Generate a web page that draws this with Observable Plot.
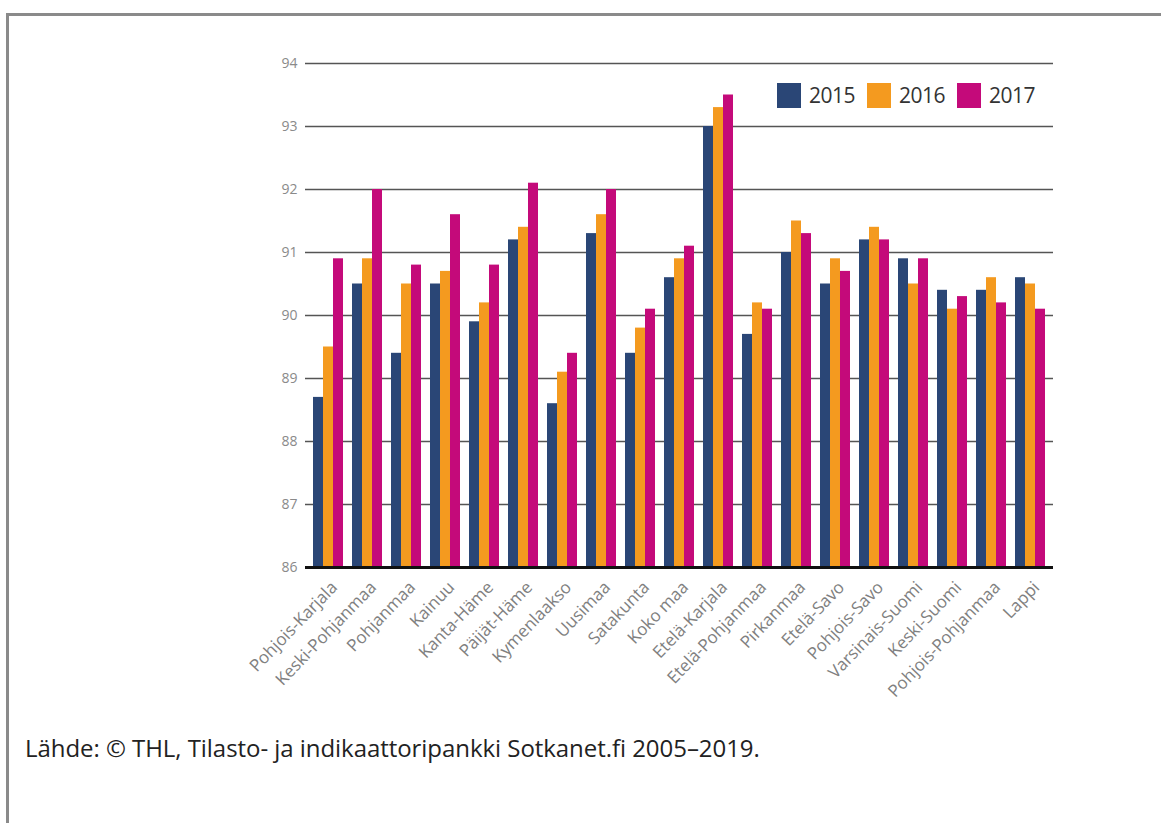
<!DOCTYPE html>
<html lang="fi">
<head>
<meta charset="utf-8">
<script src="https://cdn.jsdelivr.net/npm/d3@7"></script>
<script src="https://cdn.jsdelivr.net/npm/@observablehq/plot@0.6"></script>
<style>
  html, body { margin: 0; padding: 0; background: #fff; }
  #page { position: relative; width: 1161px; height: 823px; overflow: hidden; font-family: "Open Sans", sans-serif; }
  #frame { position: absolute; left: 6px; top: 13px; right: -10px; bottom: -10px; border-left: 3px solid #8a8a8a; border-top: 3px solid #8a8a8a; }
  .layer { position: absolute; left: 0; top: 0; }
  #legend { position: absolute; left: 777px; top: 83px; display: flex; align-items: center; font-size: 21px; color: #333; letter-spacing: -0.5px; line-height: 25px; }
  #legend .item { display: flex; align-items: center; margin-right: 12px; }
  #legend .sw { width: 24px; height: 25px; margin-right: 8px; }
  #source { position: absolute; left: 25px; top: 731px; font-size: 24px; color: #222; letter-spacing: -0.05px; }
</style>
</head>
<body>
<div id="page">
  <div id="frame"></div>
  <div id="grid" class="layer"></div>
  <div id="bars" class="layer"></div>
  <div id="base" class="layer"></div>
  <div id="legend"></div>
  <div id="source">Lähde: © THL, Tilasto- ja indikaattoripankki Sotkanet.fi 2005–2019.</div>
</div>
<script>
// Alueet (maakunnat ja koko maa) piirtojärjestyksessä
const regions = [
  "Pohjois-Karjala", "Keski-Pohjanmaa", "Pohjanmaa", "Kainuu", "Kanta-Häme",
  "Päijät-Häme", "Kymenlaakso", "Uusimaa", "Satakunta", "Koko maa",
  "Etelä-Karjala", "Etelä-Pohjanmaa", "Pirkanmaa", "Etelä-Savo", "Pohjois-Savo",
  "Varsinais-Suomi", "Keski-Suomi", "Pohjois-Pohjanmaa", "Lappi"
];
const years = ["2015", "2016", "2017"];
const values2015 = [88.7, 90.5, 89.4, 90.5, 89.9, 91.2, 88.6, 91.3, 89.4, 90.6, 93.0, 89.7, 91.0, 90.5, 91.2, 90.9, 90.4, 90.4, 90.6];
const values2016 = [89.5, 90.9, 90.5, 90.7, 90.2, 91.4, 89.1, 91.6, 89.8, 90.9, 93.3, 90.2, 91.5, 90.9, 91.4, 90.5, 90.1, 90.6, 90.5];
const values2017 = [90.9, 92.0, 90.8, 91.6, 90.8, 92.1, 89.4, 92.0, 90.1, 91.1, 93.5, 90.1, 91.3, 90.7, 91.2, 90.9, 90.3, 90.2, 90.1];
const yTicks = [86, 87, 88, 89, 90, 91, 92, 93, 94];
const yearColors = ["#2a4676", "#f49a1f", "#c40a7a"];

const series = [values2015, values2016, values2017];
const data = regions.flatMap((region, i) =>
  years.map((year, j) => ({region, year, value: series[j][i]}))
);

// Kaikki kerrokset jakavat saman koon ja marginaalit
const frame = {
  width: 1161,
  height: 720,
  marginTop: 63,
  marginBottom: 153,
  marginLeft: 305,
  marginRight: 108,
  style: {fontFamily: "'Open Sans', sans-serif", fontSize: "14px", background: "transparent"}
};
const yScale = {domain: [yTicks[0], yTicks[yTicks.length - 1]], label: null};

// Taustalla: vaakaviivat ja y-akselin luvut
const grid = Plot.plot({
  ...frame,
  y: yScale,
  marks: [
    Plot.ruleY(yTicks.slice(1), {stroke: "#555", strokeWidth: 1.4}),
    Plot.axisY({ticks: yTicks, tickSize: 0, tickPadding: 8, label: null, fill: "#8a8a8a", fontSize: 14})
  ]
});

// Pylväät alueittain ryhmiteltynä vuoden mukaan
const bars = Plot.plot({
  ...frame,
  fx: {domain: regions, paddingInner: 0.19, paddingOuter: 0.15, label: null},
  x: {domain: years, padding: 0, axis: null},
  y: {...yScale, axis: null},
  color: {domain: years, range: yearColors},
  marks: [
    Plot.barY(data, {fx: "region", x: "year", y1: yTicks[0], y2: "value", fill: "year"}),
    Plot.axisFx({anchor: "bottom", tickRotate: -46, tickSize: 0, tickPadding: 17, dx: 6, label: null, fill: "#808080", fontSize: 17})
  ]
});

// Päällimmäisenä: musta perusviiva
const base = Plot.plot({
  ...frame,
  y: {...yScale, axis: null},
  marks: [
    Plot.ruleY([yTicks[0]], {stroke: "#111", strokeWidth: 3})
  ]
});

document.getElementById("grid").append(grid);
document.getElementById("bars").append(bars);
document.getElementById("base").append(base);

// Selite
const legend = document.getElementById("legend");
years.forEach((year, j) => {
  const item = document.createElement("div");
  item.className = "item";
  const sw = document.createElement("div");
  sw.className = "sw";
  sw.style.background = yearColors[j];
  const label = document.createElement("span");
  label.textContent = year;
  item.append(sw, label);
  legend.append(item);
});
</script>
</body>
</html>
